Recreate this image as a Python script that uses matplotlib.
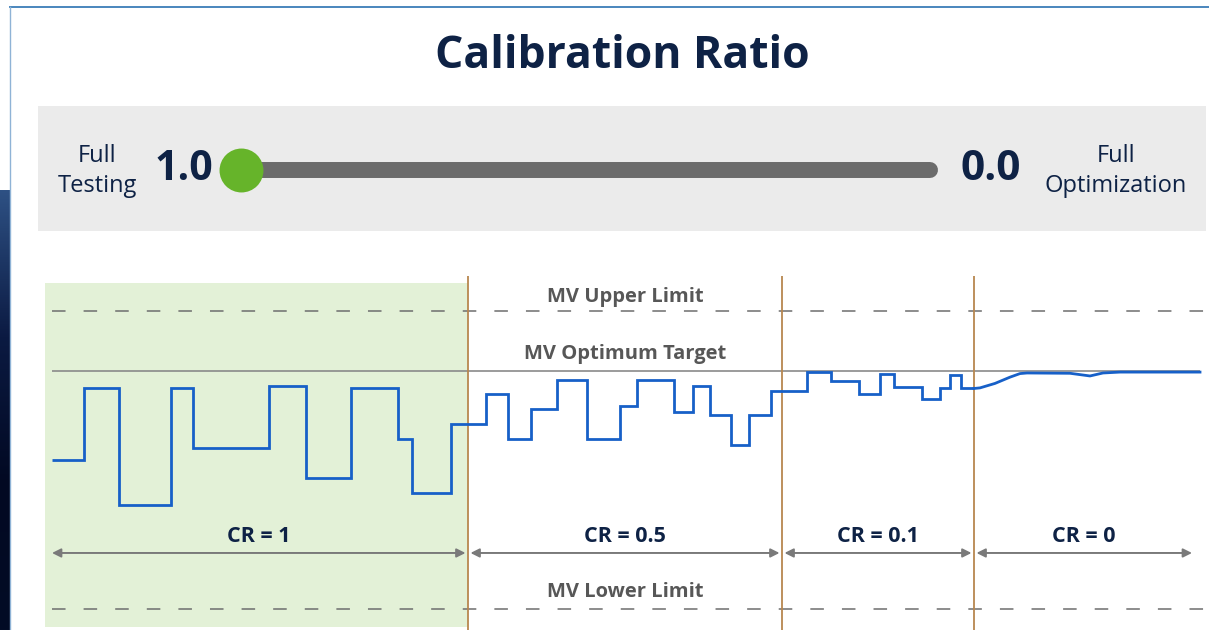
import numpy as np
import matplotlib
matplotlib.use("Agg")
import matplotlib.pyplot as plt
from matplotlib.patches import Rectangle
from matplotlib.lines import Line2D

plt.rcParams['font.family'] = ['Open Sans', 'DejaVu Sans']

# ---- data ----
title = "Calibration Ratio"
ratio_value = 1.0          # slider position (1.0 = full testing, 0.0 = full optimization)
slider_ends = [1.0, 0.0]

upper_limit = 100.0
target = 80.0
lower_limit = 0.0

# calibration-ratio regions (time units)
region_bounds = [0.7, 42.3, 73.7, 92.9, 115.0]
region_labels = ["CR = 1", "CR = 0.5", "CR = 0.1", "CR = 0"]

# MV step moves (edges in time units, levels in MV units)
step_edges = [0.7, 3.9, 7.4, 12.6, 14.8, 22.4, 26.1, 30.6, 35.3, 36.7, 40.6,
              44.1, 46.3, 48.6, 51.2, 54.2, 57.5, 59.2, 62.9, 64.8, 66.5, 68.6,
              70.4, 72.6, 76.2, 78.6, 81.4, 83.5, 84.9, 87.7, 89.5, 90.5, 91.6,
              92.9]
step_levels = [50, 74, 35, 74, 54, 75, 44, 74, 57, 39,
               62, 72, 57, 67, 77, 57, 68, 77, 66, 75, 65,
               55, 65, 73, 79.5, 76.5, 72, 79, 74.5, 70.5, 74, 78.5, 74]

# CR = 0 : continuous move to the target
smooth_t = [92.9, 93.5, 95.0, 96.5, 97.5, 98.2, 102.5, 104.5, 105.8, 107.5, 115.5]
smooth_v = [74.0, 74.2, 75.7, 77.8, 79.0, 79.2, 79.1, 78.2, 79.2, 79.5, 79.5]

navy = "#0e2245"
gray_txt = "#575757"

fig = plt.figure(figsize=(12.09, 6.30), dpi=100)
W, H = 1209, 630


def fx(px):
    return px / W


def fy(py):
    return 1 - py / H


# frame decorations (screenshot border)
fig.lines.append(Line2D([fx(10), 1], [fy(6.5), fy(6.5)], transform=fig.transFigure,
                        color="#4a86bd", lw=1.4))
fig.lines.append(Line2D([fx(10), fx(10)], [fy(6.5), 0], transform=fig.transFigure,
                        color="#8fb3d6", lw=1.0))
grad = np.linspace(0, 1, 256).reshape(-1, 1)
band = fig.add_axes([0, 0, fx(9.5), fy(190)])
band.imshow(grad, aspect="auto", cmap=matplotlib.colors.LinearSegmentedColormap.from_list(
    "b", ["#2e5184", "#0b1a42", "#020922", "#030c26"]), extent=[0, 1, 0, 1])
band.axis("off")

fig.text(fx(622), fy(56), title, ha="center", va="center", fontsize=32,
         fontweight="bold", color=navy)

# ---- slider panel ----
sax = fig.add_axes([fx(38), fy(231), fx(1206) - fx(38), fy(106) - fy(231)])
sax.set_facecolor("#ebebeb")
for s in sax.spines.values():
    s.set_visible(False)
sax.set_xticks([])
sax.set_yticks([])
sax.set_xlim(1 + (241 - 38) / 689, -(1206 - 930) / 689)
sax.set_ylim(0, 1)
yc = 0.49
sax.plot(slider_ends, [yc, yc], color="#6b6b6b", lw=11.5, solid_capstyle="round")
sax.scatter([ratio_value], [yc], s=1000, color="#66b42a", zorder=3, linewidths=0)
sax.text(0.0505, yc - 0.01, "Full\nTesting", transform=sax.transAxes, ha="center",
         va="center", fontsize=17, color=navy, linespacing=1.28)
sax.text(0.125, yc, f"{slider_ends[0]:.1f}", transform=sax.transAxes, ha="center",
         va="center", fontsize=29.5, fontweight="bold", color=navy)
sax.text(0.8155, yc, f"{slider_ends[1]:.1f}", transform=sax.transAxes, ha="center",
         va="center", fontsize=30.5, fontweight="bold", color=navy)
sax.text(0.923, yc - 0.01, "Full\nOptimization", transform=sax.transAxes, ha="center",
         va="center", fontsize=17, color=navy, linespacing=1.28)

# ---- trend chart ----
ax = fig.add_axes([fx(45), 0, 1 - fx(45), fy(276)])
ax.set_xlim(0, 116.4)
ax.set_ylim(-21 / 2.98, 333 / 2.98)
ax.axis("off")

ax.add_patch(Rectangle((0, -6), region_bounds[1], 115.3, color="#e3f1d7", lw=0, zorder=0))

x0, x1 = region_bounds[0], 116.0
ax.hlines([upper_limit, lower_limit], x0, x1, colors="#6e6e6e", alpha=0.85,
          linestyles=[(0, (7.5, 10))], lw=1.3, zorder=1)
ax.hlines(target, x0, 115.5, colors="#8a8a8a", lw=1.2, zorder=1)

for b in region_bounds[1:4]:
    ax.axvline(b, color="#b8874f", lw=1.3, zorder=2)

ax.stairs(step_levels, step_edges, baseline=None, color="#1760c8", lw=2.0, zorder=3)
ax.plot(smooth_t, smooth_v, color="#1760c8", lw=2.0, zorder=3)

mid = (region_bounds[1] + region_bounds[2]) / 2
ax.text(mid, 104.8, "MV Upper Limit", ha="center", va="center", fontsize=14.5,
        fontweight="bold", color=gray_txt)
ax.text(mid, 85.6, "MV Optimum Target", ha="center", va="center", fontsize=14.5,
        fontweight="bold", color=gray_txt)
ax.text(mid, 5.8, "MV Lower Limit", ha="center", va="center", fontsize=14.5,
        fontweight="bold", color=gray_txt)

arrow_y = 18.8
label_y = 24.2
for i, lab in enumerate(region_labels):
    a = region_bounds[i] + (0 if i == 0 else 0.25)
    b = region_bounds[i + 1] - 0.25
    if i == 3:
        b = 114.7
    ax.annotate("", xy=(a, arrow_y), xytext=(b, arrow_y),
                arrowprops=dict(arrowstyle="<|-|>", color="#7a7a7a", lw=1.4,
                                mutation_scale=13, shrinkA=0, shrinkB=0))
    ax.text((a + b) / 2, label_y, lab, ha="center", va="center", fontsize=15.5,
            fontweight="bold", color=navy)

fig.savefig("out.png", dpi=100)
